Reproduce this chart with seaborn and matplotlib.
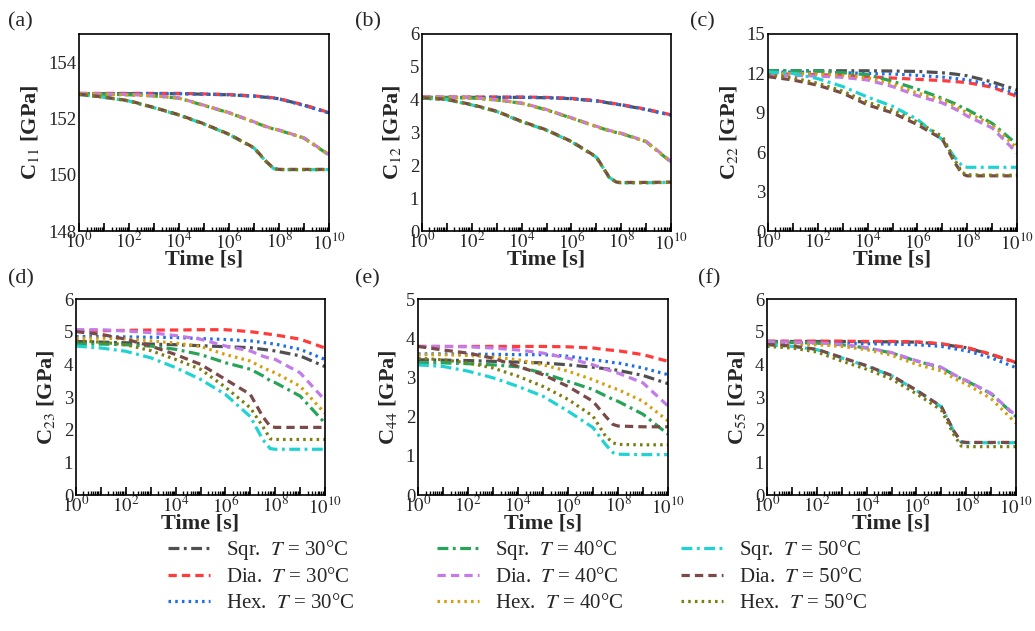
import numpy as np
import pandas as pd
import matplotlib
matplotlib.use("Agg")
import matplotlib.pyplot as plt
import matplotlib.ticker as mticker
from matplotlib.lines import Line2D
import seaborn as sns

sns.set_theme(style="ticks")
plt.rcParams['font.family'] = ['Liberation Serif', 'DejaVu Serif']
plt.rcParams['mathtext.fontset'] = 'stix'

# log10(time [s]) sample points
log_t = [0, 1, 2, 3, 4, 5, 6, 7, 7.5, 7.8, 8, 9, 10]

labels = ["Sqr.  $T$ = 30°C", "Dia.  $T$ = 30°C", "Hex.  $T$ = 30°C",
          "Sqr.  $T$ = 40°C", "Dia.  $T$ = 40°C", "Hex.  $T$ = 40°C",
          "Sqr.  $T$ = 50°C", "Dia.  $T$ = 50°C", "Hex.  $T$ = 50°C"]
colors = ['#505050', '#ff3b3b', '#1e6ee8',
          '#27a35a', '#c27be8', '#d4a010',
          '#20d3d3', '#7a4a48', '#7d7d10']
kinds = ['sqr', 'dia', 'hex'] * 3

C11 = [
    [152.88, 152.88, 152.88, 152.88, 152.88, 152.86, 152.84, 152.79, 152.75, 152.72, 152.70, 152.47, 152.20],
    [152.89, 152.89, 152.89, 152.89, 152.89, 152.87, 152.85, 152.80, 152.76, 152.73, 152.70, 152.48, 152.21],
    [152.88, 152.88, 152.88, 152.88, 152.88, 152.86, 152.84, 152.79, 152.75, 152.72, 152.69, 152.46, 152.19],
    [152.88, 152.86, 152.84, 152.80, 152.72, 152.46, 152.20, 151.87, 151.70, 151.62, 151.58, 151.30, 150.70],
    [152.89, 152.87, 152.85, 152.81, 152.73, 152.47, 152.21, 151.88, 151.71, 151.63, 151.59, 151.31, 150.72],
    [152.88, 152.86, 152.84, 152.80, 152.72, 152.46, 152.20, 151.87, 151.70, 151.62, 151.58, 151.30, 150.71],
    [152.85, 152.75, 152.62, 152.38, 152.12, 151.80, 151.43, 150.95, 150.45, 150.21, 150.18, 150.18, 150.18],
    [152.86, 152.76, 152.63, 152.39, 152.13, 151.81, 151.44, 150.96, 150.46, 150.22, 150.19, 150.19, 150.19],
    [152.85, 152.75, 152.62, 152.38, 152.12, 151.80, 151.43, 150.95, 150.45, 150.21, 150.18, 150.18, 150.18],
]
C12 = [
    [4.07, 4.07, 4.07, 4.07, 4.07, 4.06, 4.03, 3.96, 3.90, 3.86, 3.84, 3.70, 3.53],
    [4.08, 4.08, 4.08, 4.08, 4.08, 4.07, 4.04, 3.97, 3.91, 3.87, 3.85, 3.71, 3.54],
    [4.07, 4.07, 4.07, 4.07, 4.07, 4.06, 4.03, 3.96, 3.90, 3.86, 3.84, 3.70, 3.53],
    [4.06, 4.06, 4.05, 3.99, 3.89, 3.69, 3.44, 3.18, 3.06, 3.00, 2.97, 2.72, 2.10],
    [4.07, 4.07, 4.06, 4.00, 3.90, 3.70, 3.45, 3.19, 3.07, 3.01, 2.98, 2.73, 2.12],
    [4.06, 4.06, 4.05, 3.99, 3.89, 3.69, 3.44, 3.18, 3.06, 3.00, 2.97, 2.72, 2.10],
    [4.05, 4.00, 3.84, 3.64, 3.33, 3.07, 2.72, 2.25, 1.65, 1.48, 1.47, 1.47, 1.48],
    [4.06, 4.01, 3.85, 3.65, 3.34, 3.08, 2.73, 2.26, 1.66, 1.49, 1.48, 1.48, 1.49],
    [4.05, 4.00, 3.84, 3.64, 3.33, 3.07, 2.72, 2.25, 1.65, 1.48, 1.47, 1.47, 1.48],
]
C22 = [
    [12.20, 12.20, 12.20, 12.20, 12.20, 12.18, 12.15, 12.05, 11.95, 11.87, 11.82, 11.35, 10.75],
    [11.95, 11.95, 11.90, 11.85, 11.75, 11.65, 11.55, 11.45, 11.38, 11.33, 11.30, 10.95, 10.25],
    [12.10, 12.10, 12.08, 12.05, 12.00, 11.95, 11.85, 11.72, 11.62, 11.55, 11.52, 11.10, 10.45],
    [12.20, 12.20, 12.18, 12.05, 11.90, 11.40, 10.80, 10.10, 9.70, 9.40, 9.25, 8.20, 6.60],
    [11.85, 11.85, 11.80, 11.70, 11.50, 11.00, 10.30, 9.75, 9.30, 9.00, 8.75, 7.85, 5.95],
    [12.00, 12.00, 11.95, 11.85, 11.65, 11.20, 10.50, 10.00, 9.50, 9.20, 9.00, 8.10, 6.30],
    [12.10, 12.00, 11.60, 11.00, 10.20, 9.50, 8.50, 6.95, 5.60, 4.95, 4.85, 4.85, 4.85],
    [11.75, 11.50, 11.10, 10.50, 9.60, 9.00, 8.10, 7.00, 5.20, 4.35, 4.20, 4.20, 4.20],
    [11.90, 11.65, 11.25, 10.65, 9.80, 9.20, 8.30, 7.20, 5.40, 4.45, 4.28, 4.25, 4.25],
]
C23 = [
    [4.70, 4.68, 4.66, 4.62, 4.60, 4.57, 4.54, 4.51, 4.46, 4.43, 4.41, 4.26, 3.93],
    [5.02, 5.03, 5.04, 5.05, 5.05, 5.06, 5.06, 5.00, 4.95, 4.92, 4.90, 4.77, 4.50],
    [4.85, 4.85, 4.84, 4.83, 4.82, 4.79, 4.76, 4.72, 4.67, 4.64, 4.62, 4.46, 4.15],
    [4.62, 4.62, 4.60, 4.56, 4.46, 4.30, 4.05, 3.85, 3.65, 3.50, 3.44, 3.03, 2.20],
    [5.06, 5.06, 5.02, 4.97, 4.88, 4.77, 4.56, 4.41, 4.25, 4.18, 4.15, 3.74, 2.90],
    [4.80, 4.80, 4.78, 4.72, 4.65, 4.55, 4.30, 4.10, 3.90, 3.80, 3.74, 3.33, 2.50],
    [4.56, 4.50, 4.40, 4.20, 3.90, 3.54, 3.08, 2.40, 1.70, 1.42, 1.40, 1.40, 1.40],
    [5.00, 4.92, 4.77, 4.56, 4.30, 4.00, 3.54, 3.08, 2.40, 2.10, 2.07, 2.07, 2.07],
    [4.72, 4.68, 4.60, 4.42, 4.15, 3.85, 3.30, 2.67, 2.10, 1.72, 1.70, 1.70, 1.70],
]
C44 = [
    [3.45, 3.44, 3.43, 3.41, 3.39, 3.37, 3.32, 3.26, 3.22, 3.20, 3.18, 3.05, 2.84],
    [3.79, 3.79, 3.79, 3.79, 3.79, 3.79, 3.78, 3.75, 3.71, 3.69, 3.68, 3.58, 3.41],
    [3.60, 3.60, 3.59, 3.59, 3.58, 3.58, 3.54, 3.45, 3.41, 3.38, 3.37, 3.24, 3.07],
    [3.37, 3.37, 3.35, 3.32, 3.27, 3.11, 2.90, 2.69, 2.53, 2.44, 2.39, 2.06, 1.55],
    [3.79, 3.79, 3.78, 3.75, 3.70, 3.62, 3.49, 3.32, 3.21, 3.15, 3.11, 2.86, 2.27],
    [3.58, 3.58, 3.56, 3.52, 3.45, 3.32, 3.16, 2.94, 2.81, 2.73, 2.69, 2.39, 1.89],
    [3.32, 3.28, 3.16, 2.99, 2.77, 2.52, 2.14, 1.72, 1.29, 1.08, 1.04, 1.03, 1.03],
    [3.79, 3.70, 3.62, 3.49, 3.28, 3.07, 2.77, 2.39, 2.01, 1.80, 1.76, 1.74, 1.74],
    [3.49, 3.45, 3.37, 3.24, 3.03, 2.77, 2.44, 2.01, 1.50, 1.33, 1.29, 1.28, 1.28],
]
C55 = [
    [4.70, 4.70, 4.70, 4.70, 4.69, 4.69, 4.68, 4.62, 4.56, 4.53, 4.51, 4.30, 4.05],
    [4.71, 4.71, 4.71, 4.71, 4.70, 4.70, 4.69, 4.63, 4.57, 4.54, 4.52, 4.31, 4.06],
    [4.65, 4.65, 4.65, 4.64, 4.63, 4.62, 4.60, 4.55, 4.48, 4.44, 4.42, 4.20, 3.90],
    [4.68, 4.67, 4.65, 4.60, 4.50, 4.35, 4.10, 3.90, 3.68, 3.56, 3.50, 3.10, 2.40],
    [4.69, 4.68, 4.66, 4.61, 4.51, 4.36, 4.11, 3.91, 3.69, 3.57, 3.51, 3.11, 2.42],
    [4.60, 4.60, 4.60, 4.55, 4.45, 4.28, 4.00, 3.80, 3.58, 3.46, 3.40, 2.95, 2.20],
    [4.60, 4.55, 4.45, 4.20, 3.95, 3.65, 3.20, 2.70, 1.95, 1.62, 1.60, 1.60, 1.60],
    [4.61, 4.56, 4.46, 4.21, 3.96, 3.66, 3.21, 2.71, 1.96, 1.63, 1.61, 1.61, 1.61],
    [4.55, 4.50, 4.38, 4.10, 3.85, 3.55, 3.10, 2.60, 1.85, 1.50, 1.48, 1.48, 1.48],
]

panels = [
    ("(a)", "11", C11, (148, 155), [148, 150, 152, 154]),
    ("(b)", "12", C12, (0, 6), [0, 1, 2, 3, 4, 5, 6]),
    ("(c)", "22", C22, (0, 15), [0, 3, 6, 9, 12, 15]),
    ("(d)", "23", C23, (0, 6), [0, 1, 2, 3, 4, 5, 6]),
    ("(e)", "44", C44, (0, 5), [0, 1, 2, 3, 4, 5]),
    ("(f)", "55", C55, (0, 6), [0, 1, 2, 3, 4, 5, 6]),
]

W, H = 1035, 631
# axes boxes in pixels: left, top, right, bottom
boxes = [(79, 34, 329, 231), (422, 34, 671, 231), (768, 34, 1017, 231),
         (76, 299, 325, 495), (418, 299, 668, 495), (767, 299, 1016, 495)]
letter_pos = [(8, 22), (355, 22), (690, 22), (8, 279), (355, 279), (698, 279)]

styles = {
    'sqr': (0, (3.4, 1.4, 0.9, 1.4)),
    'dia': (0, (2.6, 1.6)),
    'hex': (0, (0.8, 1.3)),
}
lw = 2.3

fig = plt.figure(figsize=(W / 100, H / 100), dpi=100)
t = np.power(10.0, np.array(log_t))


def fmt_major(v, p):
    e = int(round(np.log10(v)))
    return f"$10^{{{e}}}$" if e % 2 == 0 else ""


for (letter, sub, data, ylim, yt), (l, tp, r, b), (lx, ly) in zip(panels, boxes, letter_pos):
    ax = fig.add_axes([l / W, 1 - b / H, (r - l) / W, (b - tp) / H])
    for vals, c, k in zip(data, colors, kinds):
        df = pd.DataFrame({"t": t, "v": vals})
        sns.lineplot(data=df, x="t", y="v", ax=ax, color=c, linewidth=lw,
                     linestyle=styles[k])
    ax.set_xscale('log')
    ax.set_xlim(1, 1e10)
    ax.set_ylim(*ylim)
    ax.set_yticks(yt)
    ax.xaxis.set_major_locator(mticker.LogLocator(base=10, numticks=20))
    ax.xaxis.set_major_formatter(mticker.FuncFormatter(fmt_major))
    ax.xaxis.set_minor_locator(mticker.LogLocator(base=10, subs=np.arange(2, 10), numticks=200))
    ax.xaxis.set_minor_formatter(mticker.NullFormatter())
    ax.tick_params(axis='x', which='major', direction='in', length=6, width=1.2,
                   labelsize=13.5, pad=0.5, color='black')
    ax.tick_params(axis='x', which='minor', direction='in', length=3, width=1.0, color='black')
    ax.tick_params(axis='y', which='major', direction='in', length=0, labelsize=13.5, pad=2)
    for s in ax.spines.values():
        s.set_color('black')
        s.set_linewidth(1.2)
        s.set_visible(True)
    ax.set_xlabel("Time [s]", fontsize=16, fontweight='bold', labelpad=-3)
    ax.set_ylabel("C$_{" + sub + "}$ [GPa]", fontsize=16, fontweight='bold', labelpad=5)
    ax.grid(False)
    ax.set_facecolor('white')
    fig.text(lx / W, 1 - ly / H, letter, fontsize=16, ha='left', va='center')

# legend: three separate columns
col_x = [168, 437, 681]
for ci in range(3):
    handles = []
    for j in range(3):
        i = ci * 3 + j
        handles.append(Line2D([0], [0], color=colors[i], linewidth=lw,
                              linestyle=styles[kinds[i]], label=labels[i]))
    fig.legend(handles=handles, loc='upper left',
               bbox_to_anchor=(col_x[ci] / W, 1 - 538 / H),
               frameon=False, fontsize=15, handlelength=2.0,
               handletextpad=0.8, labelspacing=0.28, borderaxespad=0,
               borderpad=0)

fig.savefig("out.png", dpi=100, facecolor='white')
